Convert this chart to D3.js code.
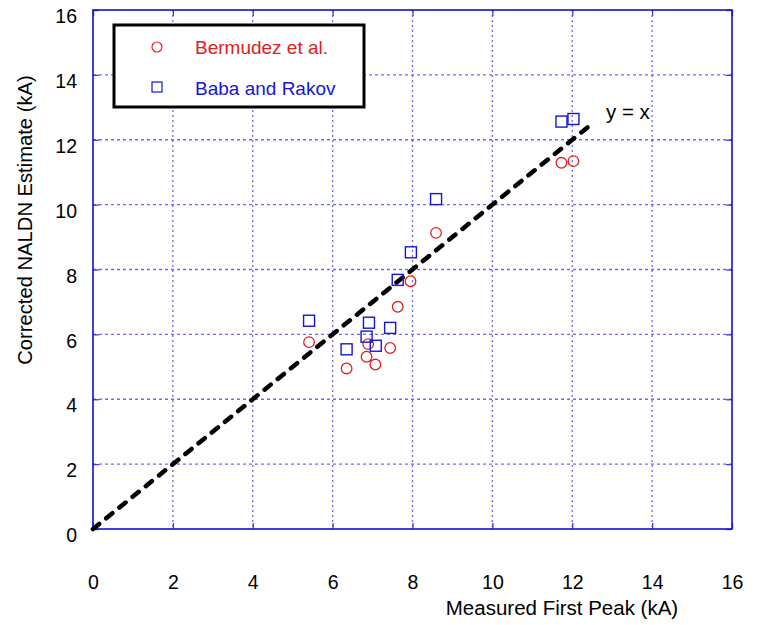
<!DOCTYPE html>
<html><head><meta charset="utf-8">
<script src="https://cdn.jsdelivr.net/npm/d3@7"></script>
<style>body{margin:0;background:#fff}svg{display:block}text{font-family:"Liberation Sans",Arial,sans-serif}</style>
</head><body>
<script>
const xTicks = [0,2,4,6,8,10,12,14,16];
const yTicks = [0,2,4,6,8,10,12,14,16];
const measuredX = [5.41,6.35,6.85,6.89,7.07,7.44,7.63,7.95,8.59,11.73,12.03];
const bermudez = [5.76,4.95,5.31,5.70,5.07,5.58,6.85,7.64,9.13,11.29,11.34];
const babaX = [5.41,6.35,6.85,6.91,7.08,7.44,7.63,7.96,8.59,11.73,12.03];
const babaRakov = [6.42,5.54,5.93,6.36,5.65,6.20,7.68,8.53,10.17,12.56,12.64];
const identityLine = [0,12.5];
const seriesNames = ["Bermudez et al.","Baba and Rakov"];

const W=757,H=625, L=93,R=732,T=10,B=529;
const svg=d3.select("body").append("svg").attr("width",W).attr("height",H);
const x=d3.scaleLinear().domain([0,16]).range([L,R]);
const y=d3.scaleLinear().domain([0,16]).range([B,T]);
const gridC="#3b3bf0";

// grid
svg.append("g").selectAll("line").data(xTicks.slice(1,-1)).join("line")
  .attr("x1",d=>x(d)).attr("x2",d=>x(d)).attr("y1",T).attr("y2",B)
  .attr("stroke",gridC).attr("stroke-width",1.3).attr("stroke-dasharray","2,3").attr("opacity",0.75);
svg.append("g").selectAll("line").data(yTicks.slice(1,-1)).join("line")
  .attr("y1",d=>y(d)).attr("y2",d=>y(d)).attr("x1",L).attr("x2",R)
  .attr("stroke",gridC).attr("stroke-width",1.3).attr("stroke-dasharray","3,3").attr("opacity",0.75);

// axes with inner ticks
const ax=svg.append("g").attr("transform",`translate(0,${B})`).call(d3.axisBottom(x).tickValues(xTicks).tickSize(-6).tickPadding(46).tickFormat(d3.format("d")));
const ay=svg.append("g").attr("transform",`translate(${L},0)`).call(d3.axisLeft(y).tickValues(yTicks).tickSize(-6).tickPadding(16).tickFormat(d3.format("d")));
const axT=svg.append("g").attr("transform",`translate(0,${T})`).call(d3.axisTop(x).tickValues(xTicks).tickSize(-6).tickFormat(""));
const ayR=svg.append("g").attr("transform",`translate(${R},0)`).call(d3.axisRight(y).tickValues(yTicks).tickSize(-6).tickFormat(""));
[ax,ay,axT,ayR].forEach(g=>{g.select(".domain").remove();g.selectAll("line").attr("stroke",gridC).attr("stroke-width",1.3);
  g.selectAll("text").attr("font-size",19.5).attr("fill","#000").style("font-family","'Liberation Sans',Arial,sans-serif");});
ay.selectAll("text").attr("dy","0.65em");
svg.append("rect").attr("x",L).attr("y",T).attr("width",R-L).attr("height",B-T).attr("fill","none").attr("stroke","#1010d0").attr("stroke-width",1.6);

// identity dashed line
svg.append("line").attr("x1",x(identityLine[0])).attr("y1",y(identityLine[0])).attr("x2",x(identityLine[1])).attr("y2",y(identityLine[1]))
  .attr("stroke","#000").attr("stroke-width",4.5).attr("stroke-dasharray","8,9").attr("stroke-linecap","round");
svg.append("text").attr("x",606).attr("y",y(12.5)-5).attr("font-size",20.5).text("y = x");

// points
svg.append("g").selectAll("circle").data(measuredX).join("circle")
  .attr("cx",d=>x(d)).attr("cy",(d,i)=>y(bermudez[i])).attr("r",5.3)
  .attr("fill","none").attr("stroke","#e02020").attr("stroke-width",1.3);
const s=11;
svg.append("g").selectAll("rect").data(babaX).join("rect")
  .attr("x",d=>x(d)-s/2).attr("y",(d,i)=>y(babaRakov[i])-s/2).attr("width",s).attr("height",s)
  .attr("fill","none").attr("stroke","#1515d8").attr("stroke-width",1.4);

// legend
const lg=svg.append("g");
lg.append("rect").attr("x",114).attr("y",25).attr("width",250).attr("height",82).attr("fill","#fff").attr("stroke","#000").attr("stroke-width",3);
lg.append("circle").attr("cx",157).attr("cy",47).attr("r",5).attr("fill","none").attr("stroke","#e02020").attr("stroke-width",1.2);
lg.append("rect").attr("x",152).attr("y",82).attr("width",10).attr("height",10).attr("fill","none").attr("stroke","#1515d8").attr("stroke-width",1.2);
lg.append("text").attr("x",195).attr("y",54).attr("font-size",19).attr("fill","#e02020").text(seriesNames[0]);
lg.append("text").attr("x",195).attr("y",95).attr("font-size",19).attr("fill","#1515d8").text(seriesNames[1]);

// axis titles
svg.append("text").attr("x",562).attr("y",615).attr("text-anchor","middle").attr("font-size",20.5).text("Measured First Peak (kA)");
svg.append("text").attr("transform","translate(32,220) rotate(-90)").attr("text-anchor","middle").attr("font-size",20.2).text("Corrected NALDN Estimate (kA)");
</script>
</body></html>
